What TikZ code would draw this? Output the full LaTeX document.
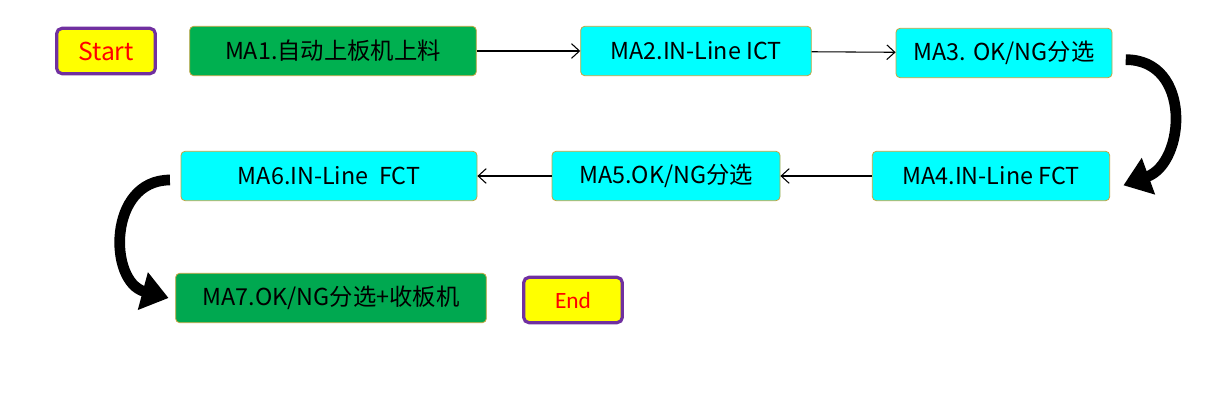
\documentclass[tikz,border=0pt]{standalone}
\usepackage{fontspec}
\newfontfamily\cjk{Noto Sans CJK SC}
\newfontfamily\capfont{Carlito}
\usetikzlibrary{arrows.meta, positioning}
\definecolor{stepgreen}{RGB}{0,176,80}
\definecolor{endgreen}{RGB}{0,168,80}
\definecolor{stepcyan}{RGB}{0,255,255}
\definecolor{edgegold}{RGB}{196,164,64}
\definecolor{termpurple}{RGB}{112,48,160}
\definecolor{termyellow}{RGB}{255,255,0}

\begin{document}
\begin{tikzpicture}[
      x=0.75pt, y=-0.75pt,
      stepbox/.style={rectangle, draw=edgegold, line width=0.6pt, rounded corners=3pt,
                      fill=stepcyan, minimum height=37pt, inner sep=0pt,
                      font=\cjk\fontsize{17.5}{19}\selectfont},
      term/.style={rectangle, draw=termpurple, line width=2.4pt, rounded corners=4pt,
                   fill=termyellow, minimum width=74pt, minimum height=34pt,
                   text=red, inner sep=0pt},
      arr/.style={-{Straight Barb[length=6pt, width=11pt]}, line width=0.8pt},
      bigarr/.style={-{Triangle[length=20pt, width=28pt]}, line width=8pt}
    ]
    \useasboundingbox (0,0) rectangle (1225,416);

    % first row
    \node[term, font=\cjk\fontsize{18.5}{20}\selectfont] (start) at (106,51) {Start};
    \node[stepbox, fill=stepgreen, minimum width=215pt] (ma1) at (333,51) {MA1.自动上板机上料};
    \node[stepbox, minimum width=173pt] (ma2) at (696,51) {MA2.IN-Line ICT};
    \node[stepbox, minimum width=162pt] (ma3) at (1004,53) {MA3. OK/NG分选};

    % second row
    \node[stepbox, minimum width=178pt] (ma4) at (991,176) {MA4.IN-Line FCT};
    \node[stepbox, minimum width=171pt] (ma5) at (666,176) {MA5.OK/NG分选};
    \node[stepbox, minimum width=222pt] (ma6) at (329,176) {MA6.IN-Line\ \ FCT};

    % third row
    \node[stepbox, fill=endgreen, minimum width=233pt] (ma7) at (331,298) {MA7.OK/NG分选+收板机};
    \node[term, font=\capfont\fontsize{17.5}{19}\selectfont] (end) at (573,300) {End};

    \draw[arr] (ma1) -- (ma2);
    \draw[arr] (ma2) -- (ma3);
    \draw[arr] (ma4) -- (ma5);
    \draw[arr] (ma5) -- (ma6);

    \draw[bigarr] ([xshift=10pt, yshift=-5pt]ma3.east)
      to[out=0, in=20, looseness=1.35] ([xshift=10pt, yshift=-7pt]ma4.east);
    \draw[bigarr] ([xshift=-8pt, yshift=-3pt]ma6.west)
      to[out=180, in=165, looseness=1.35] ([xshift=-5pt]ma7.west);
  \end{tikzpicture}
\end{document}
